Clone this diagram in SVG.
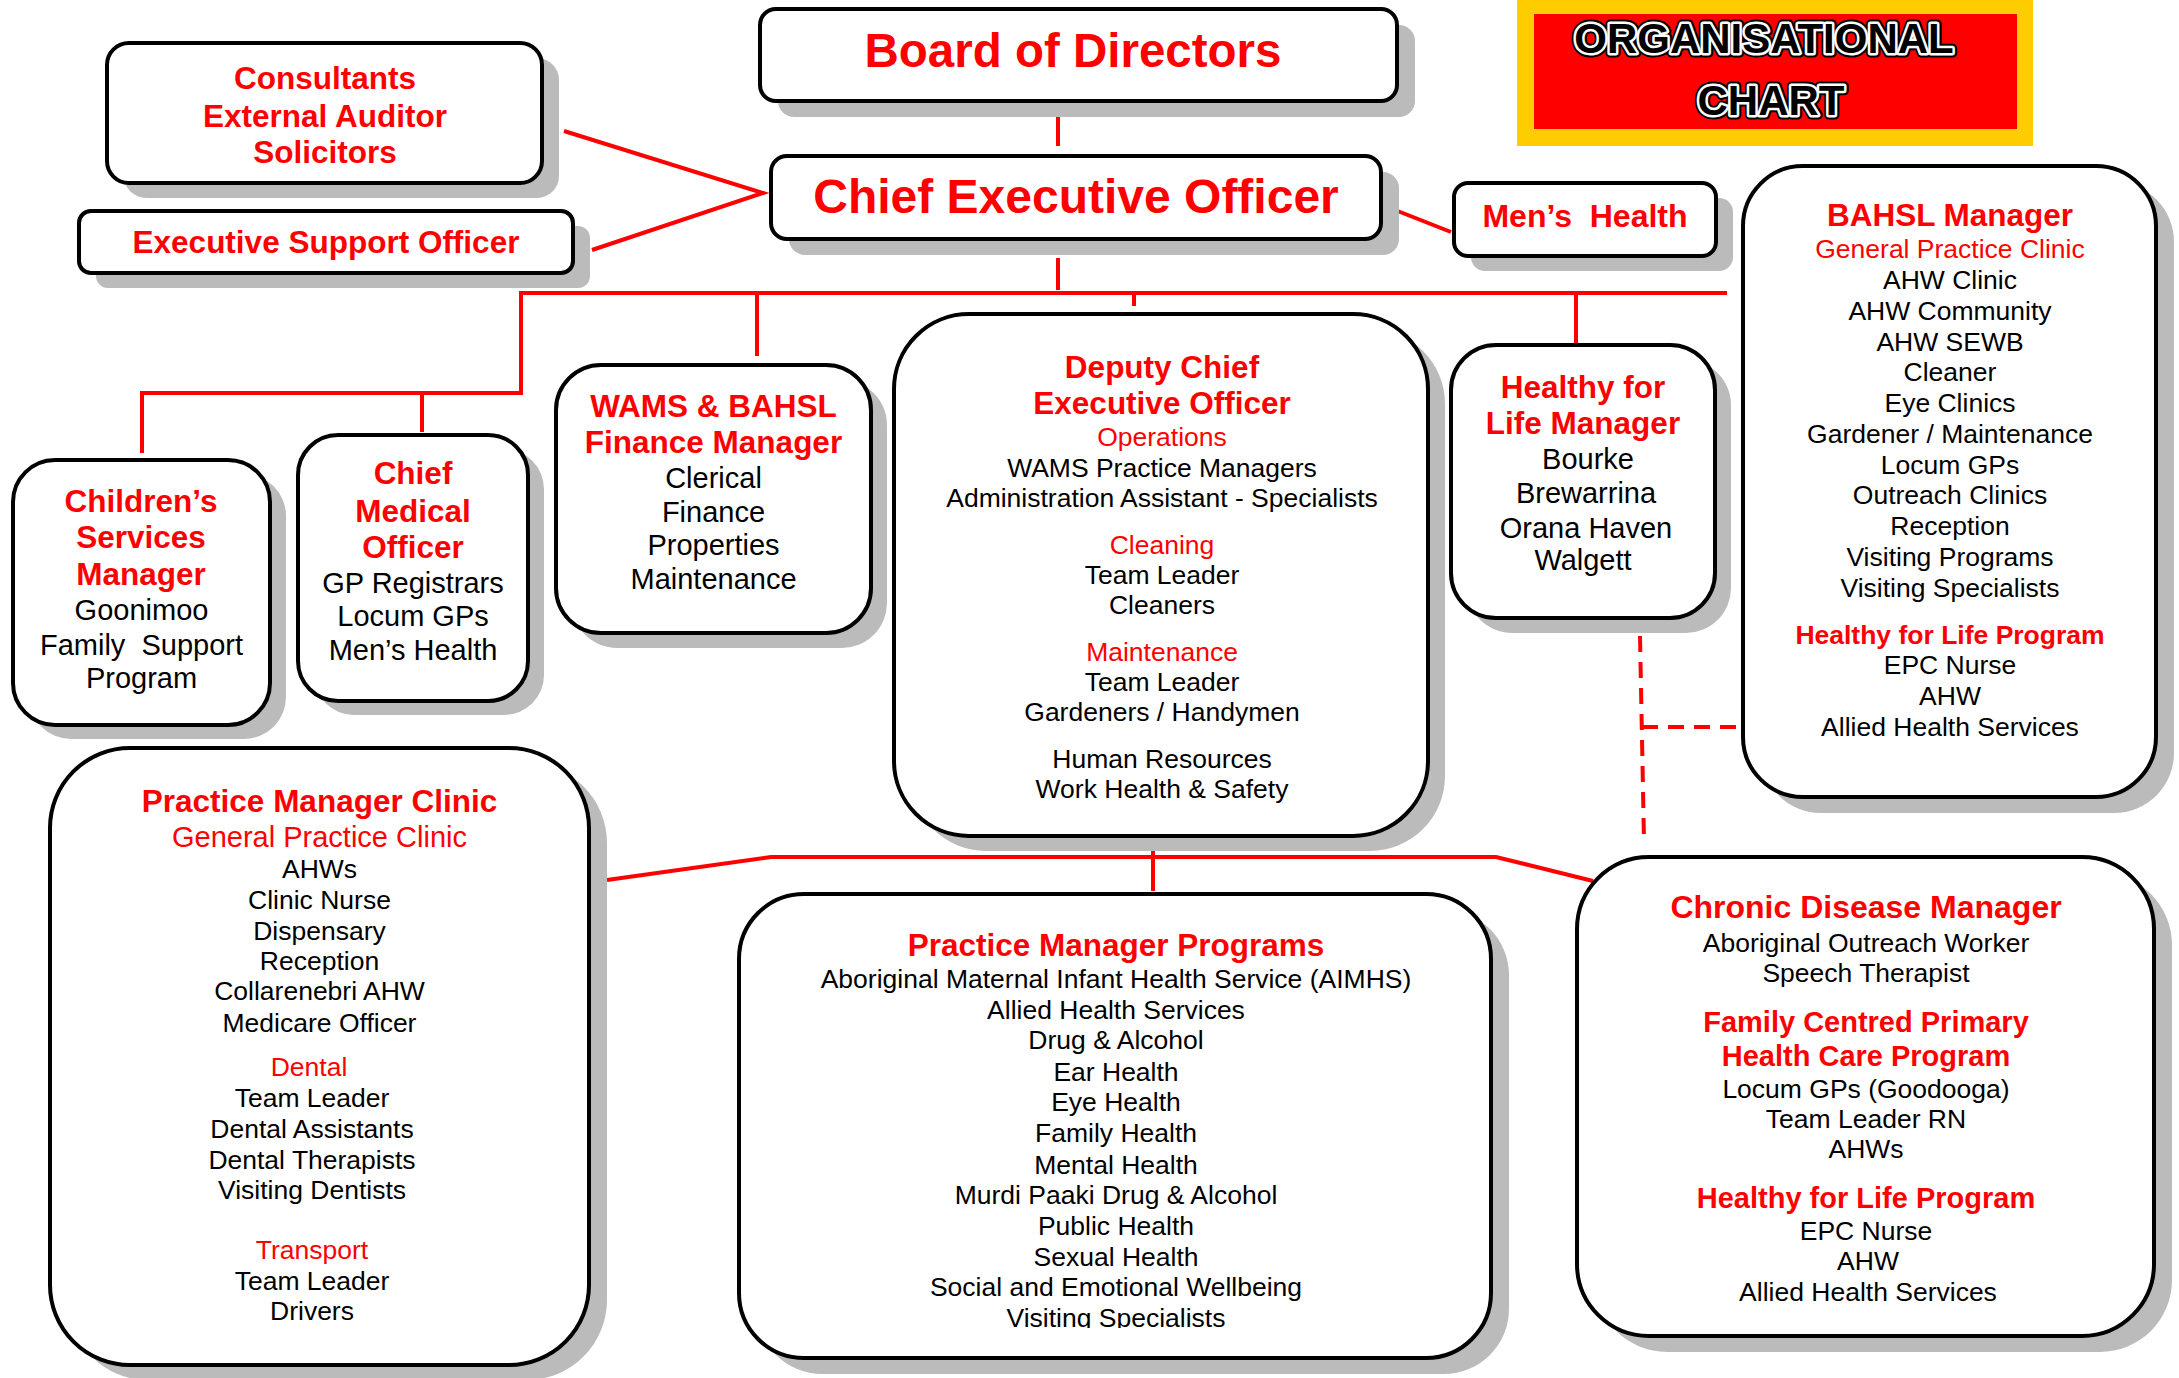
<svg xmlns="http://www.w3.org/2000/svg" width="2179" height="1378" viewBox="0 0 2179 1378">
<defs>
<style>
.sh{fill:#bbbbbb}
.box{fill:#ffffff;stroke:#000000;stroke-width:4}
text{font-family:"Liberation Sans",Arial,sans-serif;text-anchor:middle}
.hb{font-weight:bold;fill:#ff0000}
.hr{fill:#ff0000}
.k{fill:#000000}
.conn{stroke:#ff0000;stroke-width:4;fill:none}
.dash{stroke:#ff0000;stroke-width:4;fill:none;stroke-dasharray:16 10}
.org{font-weight:bold;font-size:42px;stroke-linejoin:round}
</style>
<clipPath id="pmpclip"><rect x="739" y="894" width="752" height="434"/></clipPath>
</defs>
<rect width="2179" height="1378" fill="#ffffff"/>

<g id="connectors">
<line class="conn" x1="1058" y1="112" x2="1058" y2="146"/>
<line class="conn" x1="1058" y1="258" x2="1058" y2="290"/>
<line class="conn" x1="519" y1="293" x2="1727" y2="293"/>
<polyline class="conn" points="521,293 521,393 142,393 142,453"/>
<line class="conn" x1="422" y1="393" x2="422" y2="432"/>
<line class="conn" x1="757" y1="293" x2="757" y2="356"/>
<line class="conn" x1="1134" y1="293" x2="1134" y2="306"/>
<line class="conn" x1="1576" y1="293" x2="1576" y2="345"/>
<polyline class="conn" points="564,131 763,193 592,250"/>
<line class="conn" x1="1390" y1="208" x2="1451" y2="232"/>
<line class="conn" x1="1153" y1="843" x2="1153" y2="891"/>
<polyline class="conn" points="607,880 771,857 1496,857 1593,881"/>
<line class="dash" x1="1640" y1="636" x2="1644" y2="841"/>
<line class="dash" x1="1642" y1="727" x2="1738" y2="727"/>
</g>

<g id="title">
<rect x="1517" y="0" width="516" height="146" fill="#ffcc00"/>
<rect x="1534" y="14" width="483" height="115" fill="#ff0000"/>
<text class="org" x="1764" y="53" fill="none" stroke="#000" stroke-width="9">ORGANISATIONAL</text>
<text class="org" x="1764" y="53" fill="none" stroke="#fff" stroke-width="5">ORGANISATIONAL</text>
<text class="org" x="1764" y="53" fill="#000">ORGANISATIONAL</text>
<text class="org" x="1771" y="115" fill="none" stroke="#000" stroke-width="9">CHART</text>
<text class="org" x="1771" y="115" fill="none" stroke="#fff" stroke-width="5">CHART</text>
<text class="org" x="1771" y="115" fill="#000">CHART</text>
</g>

<g id="consultants">
<rect class="sh" x="124" y="58" width="435" height="140" rx="22"/>
<rect class="box" x="107" y="43" width="435" height="140" rx="22"/>
<g class="hb" font-size="31.5">
<text x="325" y="89">Consultants</text>
<text x="325" y="127">External Auditor</text>
<text x="325" y="163">Solicitors</text>
</g>
</g>

<g id="eso">
<rect class="sh" x="96" y="226" width="494" height="62" rx="12"/>
<rect class="box" x="79" y="211" width="494" height="62" rx="12"/>
<text class="hb" font-size="31.5" x="326" y="253">Executive Support Officer</text>
</g>

<g id="board">
<rect class="sh" x="778" y="25" width="637" height="92" rx="16"/>
<rect class="box" x="760" y="9" width="637" height="92" rx="16"/>
<text class="hb" font-size="47.5" x="1073" y="67">Board of Directors</text>
</g>

<g id="ceo">
<rect class="sh" x="789" y="172" width="610" height="83" rx="16"/>
<rect class="box" x="771" y="156" width="610" height="83" rx="16"/>
<text class="hb" font-size="48" x="1076" y="213">Chief Executive Officer</text>
</g>

<g id="menshealth">
<rect class="sh" x="1471" y="198" width="262" height="73" rx="14"/>
<rect class="box" x="1454" y="183" width="262" height="73" rx="14"/>
<text class="hb" font-size="32" x="1585" y="227" xml:space="preserve">Men’s  Health</text>
</g>

<g id="bahsl">
<rect class="sh" x="1761" y="182" width="413" height="631" rx="60"/>
<rect class="box" x="1743" y="166" width="413" height="631" rx="60"/>
<text class="hb" font-size="31.5" x="1950" y="226">BAHSL Manager</text>
<text class="hr" font-size="26.5" x="1950" y="258">General Practice Clinic</text>
<g class="k" font-size="26.5">
<text x="1950" y="289">AHW Clinic</text>
<text x="1950" y="320">AHW Community</text>
<text x="1950" y="350.5">AHW SEWB</text>
<text x="1950" y="381">Cleaner</text>
<text x="1950" y="412">Eye Clinics</text>
<text x="1950" y="443">Gardener / Maintenance</text>
<text x="1950" y="473.5">Locum GPs</text>
<text x="1950" y="504">Outreach Clinics</text>
<text x="1950" y="535">Reception</text>
<text x="1950" y="566">Visiting Programs</text>
<text x="1950" y="596.5">Visiting Specialists</text>
</g>
<text class="hb" font-size="26.5" x="1950" y="644">Healthy for Life Program</text>
<g class="k" font-size="26.5">
<text x="1950" y="674">EPC Nurse</text>
<text x="1950" y="705">AHW</text>
<text x="1950" y="736">Allied Health Services</text>
</g>
</g>

<g id="children">
<rect class="sh" x="29" y="474" width="257" height="265" rx="42"/>
<rect class="box" x="13" y="460" width="257" height="265" rx="42"/>
<g class="hb" font-size="31.5">
<text x="141" y="511.5">Children’s</text>
<text x="141" y="548">Services</text>
<text x="141" y="585">Manager</text>
</g>
<g class="k" font-size="29">
<text x="141.5" y="620">Goonimoo</text>
<text x="141.5" y="655" xml:space="preserve">Family  Support</text>
<text x="141.5" y="688">Program</text>
</g>
</g>

<g id="cmo">
<rect class="sh" x="314" y="449" width="230" height="266" rx="40"/>
<rect class="box" x="298" y="435" width="230" height="266" rx="40"/>
<g class="hb" font-size="31.5">
<text x="413" y="484">Chief</text>
<text x="413" y="521.5">Medical</text>
<text x="413" y="558">Officer</text>
</g>
<g class="k" font-size="29">
<text x="413" y="593">GP Registrars</text>
<text x="413" y="626">Locum GPs</text>
<text x="413" y="660">Men’s Health</text>
</g>
</g>

<g id="wams">
<rect class="sh" x="572" y="380" width="315" height="268" rx="45"/>
<rect class="box" x="556" y="365" width="315" height="268" rx="45"/>
<g class="hb" font-size="31.5">
<text x="713.5" y="416.5">WAMS &amp; BAHSL</text>
<text x="713.5" y="453">Finance Manager</text>
</g>
<g class="k" font-size="29">
<text x="713.5" y="488">Clerical</text>
<text x="713.5" y="521.5">Finance</text>
<text x="713.5" y="555">Properties</text>
<text x="713.5" y="589">Maintenance</text>
</g>
</g>

<g id="dceo">
<rect class="sh" x="911" y="329" width="534" height="522" rx="75"/>
<rect class="box" x="894" y="314" width="534" height="522" rx="75"/>
<g class="hb" font-size="31.5">
<text x="1162" y="378">Deputy Chief</text>
<text x="1162" y="414">Executive Officer</text>
</g>
<text class="hr" font-size="26.5" x="1162" y="446">Operations</text>
<g class="k" font-size="26.5">
<text x="1162" y="477">WAMS Practice Managers</text>
<text x="1162" y="507">Administration Assistant - Specialists</text>
</g>
<text class="hr" font-size="26.5" x="1162" y="553.5">Cleaning</text>
<g class="k" font-size="26.5">
<text x="1162" y="584">Team Leader</text>
<text x="1162" y="614">Cleaners</text>
</g>
<text class="hr" font-size="26.5" x="1162" y="661">Maintenance</text>
<g class="k" font-size="26.5">
<text x="1162" y="691">Team Leader</text>
<text x="1162" y="721">Gardeners / Handymen</text>
<text x="1162" y="768">Human Resources</text>
<text x="1162" y="798">Work Health &amp; Safety</text>
</g>
</g>

<g id="hfl">
<rect class="sh" x="1467" y="360" width="264" height="273" rx="45"/>
<rect class="box" x="1451" y="345" width="264" height="273" rx="45"/>
<g class="hb" font-size="31.5">
<text x="1583" y="398">Healthy for</text>
<text x="1583" y="434">Life Manager</text>
</g>
<g class="k" font-size="29">
<text x="1588" y="469">Bourke</text>
<text x="1586" y="503">Brewarrina</text>
<text x="1586" y="538">Orana Haven</text>
<text x="1583" y="570">Walgett</text>
</g>
</g>

<g id="pmc">
<rect class="sh" x="68" y="763" width="539" height="617" rx="80"/>
<rect class="box" x="50" y="748" width="539" height="617" rx="80"/>
<text class="hb" font-size="31.5" x="319.5" y="812">Practice Manager Clinic</text>
<text class="hr" font-size="29" x="319.5" y="847">General Practice Clinic</text>
<g class="k" font-size="26.5">
<text x="319.5" y="878">AHWs</text>
<text x="319.5" y="909">Clinic Nurse</text>
<text x="319.5" y="940">Dispensary</text>
<text x="319.5" y="970">Reception</text>
<text x="319.5" y="1000">Collarenebri AHW</text>
<text x="319.5" y="1032">Medicare Officer</text>
</g>
<text class="hr" font-size="26.5" x="309" y="1076">Dental</text>
<g class="k" font-size="26.5">
<text x="312" y="1107">Team Leader</text>
<text x="312" y="1138">Dental Assistants</text>
<text x="312" y="1169">Dental Therapists</text>
<text x="312" y="1198.5">Visiting Dentists</text>
</g>
<text class="hr" font-size="26.5" x="312" y="1259">Transport</text>
<g class="k" font-size="26.5">
<text x="312" y="1290">Team Leader</text>
<text x="312" y="1320">Drivers</text>
</g>
</g>

<g id="pmp">
<rect class="sh" x="757" y="910" width="752" height="464" rx="65"/>
<rect class="box" x="739" y="894" width="752" height="464" rx="65"/>
<text class="hb" font-size="31.5" x="1116" y="956">Practice Manager Programs</text>
<g class="k" font-size="26.5">
<text x="1116" y="988">Aboriginal Maternal Infant Health Service (AIMHS)</text>
<text x="1116" y="1019">Allied Health Services</text>
<text x="1116" y="1049">Drug &amp; Alcohol</text>
<text x="1116" y="1081">Ear Health</text>
<text x="1116" y="1111">Eye Health</text>
<text x="1116" y="1142">Family Health</text>
<text x="1116" y="1174">Mental Health</text>
<text x="1116" y="1204">Murdi Paaki Drug &amp; Alcohol</text>
<text x="1116" y="1235">Public Health</text>
<text x="1116" y="1266">Sexual Health</text>
<text x="1116" y="1296">Social and Emotional Wellbeing</text>
<text x="1116" y="1327" clip-path="url(#pmpclip)">Visiting Specialists</text>
</g>
</g>

<g id="cd">
<rect class="sh" x="1595" y="873" width="577" height="479" rx="72"/>
<rect class="box" x="1577" y="857" width="577" height="479" rx="72"/>
<text class="hb" font-size="32" x="1866" y="918">Chronic Disease Manager</text>
<g class="k" font-size="26.5">
<text x="1866" y="952">Aboriginal Outreach Worker</text>
<text x="1866" y="982">Speech Therapist</text>
</g>
<g class="hb" font-size="29">
<text x="1866" y="1032">Family Centred Primary</text>
<text x="1866" y="1066">Health Care Program</text>
</g>
<g class="k" font-size="26.5">
<text x="1866" y="1098">Locum GPs (Goodooga)</text>
<text x="1866" y="1128">Team Leader RN</text>
<text x="1866" y="1158">AHWs</text>
</g>
<text class="hb" font-size="29" x="1866" y="1208">Healthy for Life Program</text>
<g class="k" font-size="26.5">
<text x="1866" y="1240">EPC Nurse</text>
<text x="1868" y="1270">AHW</text>
<text x="1868" y="1301">Allied Health Services</text>
</g>
</g>
</svg>
